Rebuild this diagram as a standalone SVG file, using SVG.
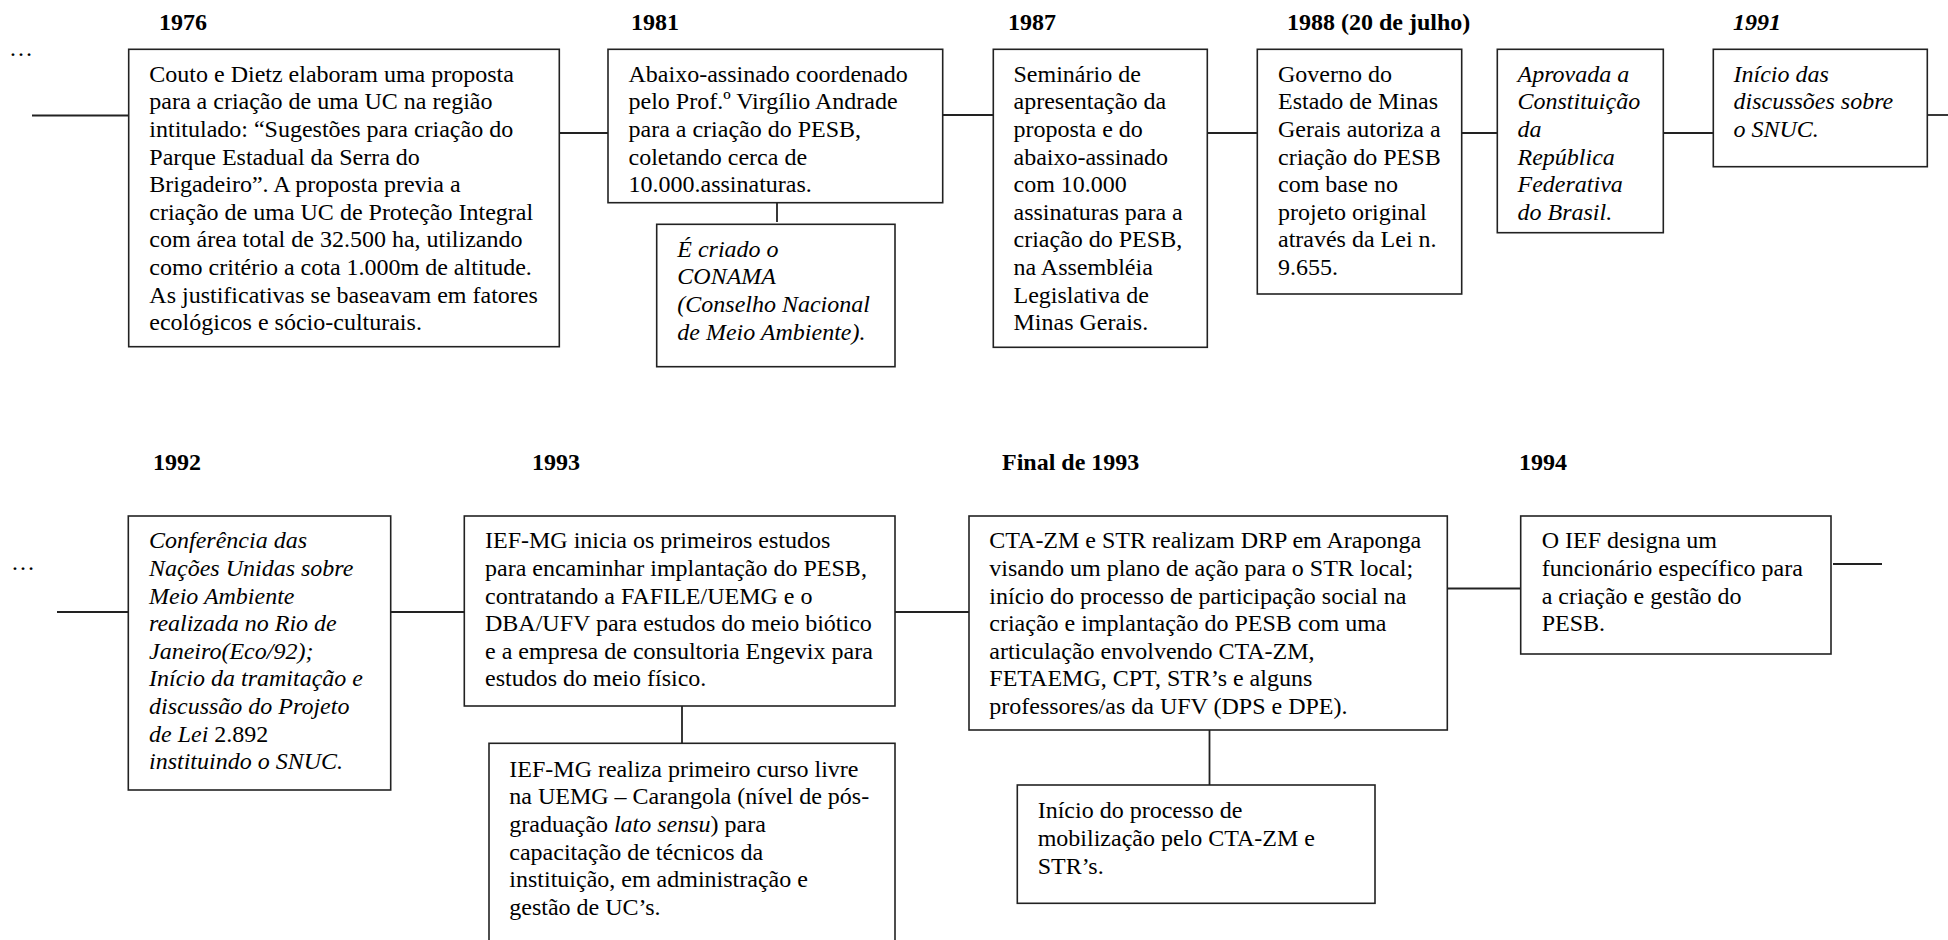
<svg xmlns="http://www.w3.org/2000/svg" width="1948" height="940" viewBox="0 0 1948 940">
<style>
.box{fill:#fff;stroke:#222;stroke-width:1.6}
.ln{fill:none;stroke:#222;stroke-width:1.8}
.t{font-family:"Liberation Serif","Times New Roman",serif;font-size:24px;fill:#000}
.i{font-style:italic}
.yr{font-family:"Liberation Serif","Times New Roman",serif;font-size:24px;font-weight:bold;fill:#000}
</style>
<rect x="0" y="0" width="1948" height="940" fill="#fff"/>

<g id="labels">
<text class="t" x="9" y="56">…</text>
<text class="t" x="11" y="570">…</text>
<text class="yr" x="159" y="30">1976</text>
<text class="yr" x="631" y="30">1981</text>
<text class="yr" x="1008" y="30">1987</text>
<text class="yr" x="1287" y="30">1988 (20 de julho)</text>
<text class="yr i" x="1733" y="30">1991</text>
<text class="yr" x="153" y="470">1992</text>
<text class="yr" x="532" y="470">1993</text>
<text class="yr" x="1002" y="470">Final de 1993</text>
<text class="yr" x="1519" y="470">1994</text>
</g>

<g id="connectors">
<line class="ln" x1="32" y1="115.5" x2="129" y2="115.5"/>
<line class="ln" x1="559" y1="133" x2="608" y2="133"/>
<line class="ln" x1="943" y1="115" x2="993" y2="115"/>
<line class="ln" x1="777" y1="203" x2="777" y2="222"/>
<line class="ln" x1="1207" y1="133" x2="1257" y2="133"/>
<line class="ln" x1="1462" y1="133" x2="1497" y2="133"/>
<line class="ln" x1="1663" y1="133" x2="1713" y2="133"/>
<line class="ln" x1="1927" y1="115" x2="1948" y2="115"/>
<line class="ln" x1="57" y1="612" x2="128" y2="612"/>
<line class="ln" x1="391" y1="612" x2="464" y2="612"/>
<line class="ln" x1="895" y1="612" x2="969" y2="612"/>
<line class="ln" x1="682" y1="706" x2="682" y2="743"/>
<line class="ln" x1="1447" y1="588.5" x2="1521" y2="588.5"/>
<line class="ln" x1="1209.5" y1="730" x2="1209.5" y2="785"/>
<line class="ln" x1="1833" y1="564" x2="1882" y2="564"/>
</g>

<g id="n1976">
<rect class="box" x="128.7" y="49.3" width="430.6" height="297.4"/>
<text class="t" x="149.3" y="81.7">
<tspan x="149.3" dy="0">Couto e Dietz elaboram uma proposta</tspan>
<tspan x="149.3" dy="27.6">para a criação de uma UC na região</tspan>
<tspan x="149.3" dy="27.6">intitulado: “Sugestões para criação do</tspan>
<tspan x="149.3" dy="27.6">Parque Estadual da Serra do</tspan>
<tspan x="149.3" dy="27.6">Brigadeiro”. A proposta previa a</tspan>
<tspan x="149.3" dy="27.6">criação de uma UC de Proteção Integral</tspan>
<tspan x="149.3" dy="27.6">com área total de 32.500 ha, utilizando</tspan>
<tspan x="149.3" dy="27.6">como critério a cota 1.000m de altitude.</tspan>
<tspan x="149.3" dy="27.6">As justificativas se baseavam em fatores</tspan>
<tspan x="149.3" dy="27.6">ecológicos e sócio-culturais.</tspan>
</text>
</g>

<g id="n1981">
<rect class="box" x="608" y="49.3" width="334.7" height="153.4"/>
<text class="t" x="628.5" y="81.7">
<tspan x="628.5" dy="0">Abaixo-assinado coordenado</tspan>
<tspan x="628.5" dy="27.6">pelo Prof.º Virgílio Andrade</tspan>
<tspan x="628.5" dy="27.6">para a criação do PESB,</tspan>
<tspan x="628.5" dy="27.6">coletando cerca de</tspan>
<tspan x="628.5" dy="27.6">10.000.assinaturas.</tspan>
</text>
</g>

<g id="nConama">
<rect class="box" x="656.7" y="224.3" width="238.3" height="142.4"/>
<text class="t i" x="677.3" y="256.7">
<tspan x="677.3" dy="0">É criado o</tspan>
<tspan x="677.3" dy="27.6">CONAMA</tspan>
<tspan x="677.3" dy="27.6">(Conselho Nacional</tspan>
<tspan x="677.3" dy="27.6">de Meio Ambiente).</tspan>
</text>
</g>

<g id="n1987">
<rect class="box" x="993.3" y="49.3" width="214" height="298"/>
<text class="t" x="1013.5" y="81.7">
<tspan x="1013.5" dy="0">Seminário de</tspan>
<tspan x="1013.5" dy="27.6">apresentação da</tspan>
<tspan x="1013.5" dy="27.6">proposta e do</tspan>
<tspan x="1013.5" dy="27.6">abaixo-assinado</tspan>
<tspan x="1013.5" dy="27.6">com 10.000</tspan>
<tspan x="1013.5" dy="27.6">assinaturas para a</tspan>
<tspan x="1013.5" dy="27.6">criação do PESB,</tspan>
<tspan x="1013.5" dy="27.6">na Assembléia</tspan>
<tspan x="1013.5" dy="27.6">Legislativa de</tspan>
<tspan x="1013.5" dy="27.6">Minas Gerais.</tspan>
</text>
</g>

<g id="n1988">
<rect class="box" x="1257.3" y="49.3" width="204.4" height="244.7"/>
<text class="t" x="1278" y="81.7">
<tspan x="1278" dy="0">Governo do</tspan>
<tspan x="1278" dy="27.6">Estado de Minas</tspan>
<tspan x="1278" dy="27.6">Gerais autoriza a</tspan>
<tspan x="1278" dy="27.6">criação do PESB</tspan>
<tspan x="1278" dy="27.6">com base no</tspan>
<tspan x="1278" dy="27.6">projeto original</tspan>
<tspan x="1278" dy="27.6">através da Lei n.</tspan>
<tspan x="1278" dy="27.6">9.655.</tspan>
</text>
</g>

<g id="nConstituicao">
<rect class="box" x="1497.3" y="49.3" width="166" height="183.4"/>
<text class="t i" x="1517.5" y="81.7">
<tspan x="1517.5" dy="0">Aprovada a</tspan>
<tspan x="1517.5" dy="27.6">Constituição</tspan>
<tspan x="1517.5" dy="27.6">da</tspan>
<tspan x="1517.5" dy="27.6">República</tspan>
<tspan x="1517.5" dy="27.6">Federativa</tspan>
<tspan x="1517.5" dy="27.6">do Brasil.</tspan>
</text>
</g>

<g id="n1991">
<rect class="box" x="1713.3" y="49.3" width="214" height="117.4"/>
<text class="t i" x="1733.5" y="81.7">
<tspan x="1733.5" dy="0">Início das</tspan>
<tspan x="1733.5" dy="27.6">discussões sobre</tspan>
<tspan x="1733.5" dy="27.6">o SNUC.</tspan>
</text>
</g>

<g id="n1992">
<rect class="box" x="128.3" y="516" width="262.4" height="274"/>
<text class="t i" x="149" y="548.3">
<tspan x="149" dy="0">Conferência das</tspan>
<tspan x="149" dy="27.6">Nações Unidas sobre</tspan>
<tspan x="149" dy="27.6">Meio Ambiente</tspan>
<tspan x="149" dy="27.6">realizada no Rio de</tspan>
<tspan x="149" dy="27.6">Janeiro(Eco/92);</tspan>
<tspan x="149" dy="27.6">Início da tramitação e</tspan>
<tspan x="149" dy="27.6">discussão do Projeto</tspan>
<tspan x="149" dy="27.6">de Lei <tspan font-style="normal">2.892</tspan></tspan>
<tspan x="149" dy="27.6">instituindo o SNUC.</tspan>
</text>
</g>

<g id="n1993">
<rect class="box" x="464.3" y="516" width="430.7" height="190"/>
<text class="t" x="485" y="548.3">
<tspan x="485" dy="0">IEF-MG inicia os primeiros estudos</tspan>
<tspan x="485" dy="27.6">para encaminhar implantação do PESB,</tspan>
<tspan x="485" dy="27.6">contratando a FAFILE/UEMG e o</tspan>
<tspan x="485" dy="27.6">DBA/UFV para estudos do meio biótico</tspan>
<tspan x="485" dy="27.6">e a empresa de consultoria Engevix para</tspan>
<tspan x="485" dy="27.6">estudos do meio físico.</tspan>
</text>
</g>

<g id="nCurso">
<rect class="box" x="489" y="743.3" width="406" height="220"/>
<text class="t" x="509.3" y="776.7">
<tspan x="509.3" dy="0">IEF-MG realiza primeiro curso livre</tspan>
<tspan x="509.3" dy="27.6">na UEMG – Carangola (nível de pós-</tspan>
<tspan x="509.3" dy="27.6">graduação <tspan font-style="italic">lato sensu</tspan>) para</tspan>
<tspan x="509.3" dy="27.6">capacitação de técnicos da</tspan>
<tspan x="509.3" dy="27.6">instituição, em administração e</tspan>
<tspan x="509.3" dy="27.6">gestão de UC’s.</tspan>
</text>
</g>

<g id="nFinal1993">
<rect class="box" x="969" y="516" width="478.3" height="214"/>
<text class="t" x="989.3" y="548.3">
<tspan x="989.3" dy="0">CTA-ZM e STR realizam DRP em Araponga</tspan>
<tspan x="989.3" dy="27.6">visando um plano de ação para o STR local;</tspan>
<tspan x="989.3" dy="27.6">início do processo de participação social na</tspan>
<tspan x="989.3" dy="27.6">criação e implantação do PESB com uma</tspan>
<tspan x="989.3" dy="27.6">articulação envolvendo CTA-ZM,</tspan>
<tspan x="989.3" dy="27.6">FETAEMG, CPT, STR’s e alguns</tspan>
<tspan x="989.3" dy="27.6">professores/as da UFV (DPS e DPE).</tspan>
</text>
</g>

<g id="nMobilizacao">
<rect class="box" x="1017.3" y="785" width="357.7" height="118.3"/>
<text class="t" x="1037.7" y="818.3">
<tspan x="1037.7" dy="0">Início do processo de</tspan>
<tspan x="1037.7" dy="27.6">mobilização pelo CTA-ZM e</tspan>
<tspan x="1037.7" dy="27.6">STR’s.</tspan>
</text>
</g>

<g id="n1994">
<rect class="box" x="1520.7" y="516" width="310.3" height="138"/>
<text class="t" x="1541.7" y="548.3">
<tspan x="1541.7" dy="0">O IEF designa um</tspan>
<tspan x="1541.7" dy="27.6">funcionário específico para</tspan>
<tspan x="1541.7" dy="27.6">a criação e gestão do</tspan>
<tspan x="1541.7" dy="27.6">PESB.</tspan>
</text>
</g>
</svg>
